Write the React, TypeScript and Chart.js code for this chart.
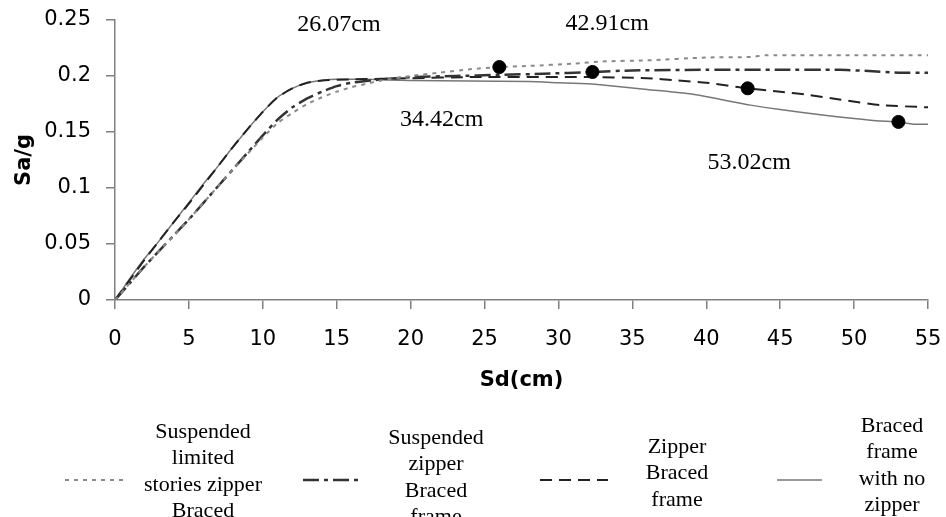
import React, { useEffect, useRef } from "react";
import { Chart, registerables } from "chart.js";

Chart.register(...registerables);

// ---- Data ----
const seriesNames = [
  "Suspended limited stories zipper Braced frame",
  "Suspended zipper Braced frame",
  "Zipper Braced frame",
  "Braced frame with no zipper",
];

const limitedX = [0, 1, 2, 3, 4, 5, 6, 7, 8, 9, 10, 11, 12, 13, 14, 15, 16, 17, 18, 20, 22, 24, 26, 28, 31, 33, 36, 40, 43, 44, 50, 55, 55.7];
const limitedY = [0, 0.015, 0.03, 0.044, 0.058, 0.072, 0.087, 0.102, 0.117, 0.131, 0.145, 0.158, 0.167, 0.175, 0.181, 0.186, 0.19, 0.193, 0.196, 0.2, 0.203, 0.206, 0.208, 0.209, 0.211, 0.213, 0.214, 0.2165, 0.217, 0.2185, 0.2185, 0.2185, 0.2185];

const suspZipX = [0, 1, 2, 3, 4, 5, 6, 7, 8, 9, 10, 11, 12, 13, 14, 15, 16, 18, 20, 23, 26, 29, 32.3, 35, 40, 45, 49, 51, 53, 55, 55.5];
const suspZipY = [0, 0.015, 0.03, 0.044, 0.058, 0.072, 0.087, 0.102, 0.117, 0.132, 0.147, 0.161, 0.172, 0.18, 0.186, 0.191, 0.194, 0.197, 0.199, 0.2, 0.201, 0.202, 0.2036, 0.205, 0.2055, 0.2055, 0.2055, 0.2045, 0.203, 0.203, 0.203];

const zipperX = [0, 1, 2, 3, 4, 5, 6, 7, 8, 9, 10, 11, 12, 13, 14, 16, 20, 24, 32, 36, 38, 40, 42.8, 45, 47, 49, 51.8, 55, 55.7];
const zipperY = [0, 0.018, 0.036, 0.053, 0.07, 0.086, 0.103, 0.12, 0.137, 0.153, 0.168, 0.181, 0.189, 0.194, 0.196, 0.197, 0.198, 0.199, 0.199, 0.198, 0.196, 0.194, 0.189, 0.186, 0.183, 0.179, 0.174, 0.172, 0.171];

const noZipX = [0, 1, 2, 3, 4, 5, 6, 7, 8, 9, 10, 11, 12, 13, 14, 15, 17, 20, 24, 28, 30, 32, 33, 36, 39, 41, 43, 45, 48, 50, 51.5, 53, 54, 55, 55.7];
const noZipY = [0, 0.019, 0.037, 0.053, 0.07, 0.087, 0.104, 0.12, 0.137, 0.153, 0.168, 0.181, 0.189, 0.194, 0.196, 0.197, 0.197, 0.196, 0.1955, 0.195, 0.194, 0.193, 0.192, 0.188, 0.184, 0.179, 0.174, 0.17, 0.165, 0.162, 0.16, 0.159, 0.157, 0.157, 0.156];

const markerX = [26, 32.3, 42.8, 53];
const markerY = [0.208, 0.2036, 0.189, 0.159];

const annotTexts = ["26.07cm", "42.91cm", "34.42cm", "53.02cm"];
const annotX = [15.15, 33.3, 22.1, 42.9];
const annotY = [0.2455, 0.2464, 0.1607, 0.1223];

const legendTexts = [
  ["Suspended", "limited", "stories zipper", "Braced", "frame"],
  ["Suspended", "zipper", "Braced", "frame"],
  ["Zipper", "Braced", "frame"],
  ["Braced", "frame", "with no", "zipper"],
];

const xTickStep = 5;
const yTickStep = 0.05;

// ---- Styles ----
const lineStyles = [
  { color: "#8a8a8a", width: 2, dash: [4, 5] },
  { color: "#333333", width: 2.5, dash: [16, 5, 4, 5] },
  { color: "#222222", width: 2, dash: [12, 7] },
  { color: "#777777", width: 1.5, dash: [] as number[] },
];

const legendLayout = [
  { x0: 65, x1: 123, textX: 203, firstY: 432 },
  { x0: 303, x1: 358, textX: 436, firstY: 438 },
  { x0: 540, x1: 608, textX: 677, firstY: 447 },
  { x0: 777, x1: 822, textX: 892, firstY: 426 },
];

const toPts = (xs: number[], ys: number[]) => xs.map((x, i) => ({ x, y: ys[i] }));

const overlayPlugin = {
  id: "overlay",
  afterDraw(chart: any) {
    const { ctx, scales } = chart;
    const xs = scales.x;
    const ys = scales.y;
    ctx.save();
    ctx.fillStyle = "#000";
    ctx.textAlign = "center";
    ctx.textBaseline = "middle";
    ctx.font = '24px "Liberation Serif"';
    annotTexts.forEach((t, i) => {
      ctx.fillText(t, xs.getPixelForValue(annotX[i]), ys.getPixelForValue(annotY[i]));
    });
    // legend
    ctx.font = '22px "Liberation Serif"';
    legendLayout.forEach((L, i) => {
      const st = lineStyles[i];
      ctx.save();
      ctx.strokeStyle = st.color;
      ctx.lineWidth = st.width;
      ctx.setLineDash(st.dash);
      ctx.beginPath();
      ctx.moveTo(L.x0, 480);
      ctx.lineTo(L.x1, 480);
      ctx.stroke();
      ctx.restore();
      legendTexts[i].forEach((line, j) => {
        ctx.fillText(line, L.textX, L.firstY + j * 26.5);
      });
    });
    ctx.restore();
  },
};

export default function App() {
  const ref = useRef<HTMLCanvasElement | null>(null);

  useEffect(() => {
    document.body.style.margin = "0";
    const canvas = ref.current;
    if (!canvas) return;
    const lineData = [
      toPts(limitedX, limitedY),
      toPts(suspZipX, suspZipY),
      toPts(zipperX, zipperY),
      toPts(noZipX, noZipY),
    ];
    const datasets: any[] = lineData.map((d, i) => ({
      type: "line",
      label: seriesNames[i],
      data: d,
      borderColor: lineStyles[i].color,
      borderWidth: lineStyles[i].width,
      borderDash: lineStyles[i].dash,
      pointRadius: 0,
      fill: false,
      tension: 0.2,
      order: 1,
      clip: { left: 0, top: 0, right: 14, bottom: 0 },
    }));
    datasets.push({
      type: "scatter",
      label: "markers",
      data: toPts(markerX, markerY),
      pointRadius: 6.5,
      pointBackgroundColor: "#000",
      pointBorderColor: "#000",
      showLine: false,
      order: 0,
    });

    const chart = new Chart(canvas, {
      type: "line",
      data: { datasets },
      options: {
        animation: false,
        responsive: false,
        devicePixelRatio: 1,
        layout: { padding: { left: 0, top: 20, right: 18, bottom: 117 } },
        plugins: { legend: { display: false }, tooltip: { enabled: false } },
        scales: {
          x: {
            type: "linear",
            min: 0,
            max: 55,
            afterFit: (s: any) => {
              s.height = 100;
              s.paddingLeft = 0;
              s.paddingRight = 0;
            },
            ticks: {
              stepSize: xTickStep,
              color: "#000",
              font: { family: "DejaVu Sans", size: 21 },
              padding: 18,
              maxRotation: 0,
              autoSkip: false,
            },
            grid: {
              display: true,
              drawOnChartArea: false,
              drawTicks: true,
              tickLength: 9,
              color: "#808080",
              lineWidth: 1.5,
            },
            border: { display: true, color: "#808080", width: 1.5 },
            title: {
              display: true,
              text: "Sd(cm)",
              color: "#000",
              font: { family: "DejaVu Sans", size: 21, weight: "bold" },
              padding: { top: 0, bottom: 7 },
            },
          },
          y: {
            type: "linear",
            min: 0,
            max: 0.25,
            afterFit: (s: any) => {
              s.width = 115;
              s.paddingTop = 0;
              s.paddingBottom = 0;
            },
            ticks: {
              stepSize: yTickStep,
              color: "#000",
              font: { family: "DejaVu Sans", size: 21 },
              padding: 15,
              callback: (v: any) => parseFloat(Number(v).toFixed(2)).toString(),
            },
            grid: {
              display: true,
              drawOnChartArea: false,
              drawTicks: true,
              tickLength: 9,
              color: "#808080",
              lineWidth: 1.5,
            },
            border: { display: true, color: "#808080", width: 1.5 },
            title: {
              display: true,
              text: "Sa/g",
              color: "#000",
              font: { family: "DejaVu Sans", size: 21, weight: "bold" },
              padding: { top: 12, bottom: 0 },
            },
          },
        },
      },
      plugins: [overlayPlugin],
    } as any);
    return () => chart.destroy();
  }, []);

  return (
    <div style={{ width: 946, height: 517, background: "#fff" }}>
      <canvas ref={ref} width={946} height={517} style={{ display: "block" }} />
    </div>
  );
}
